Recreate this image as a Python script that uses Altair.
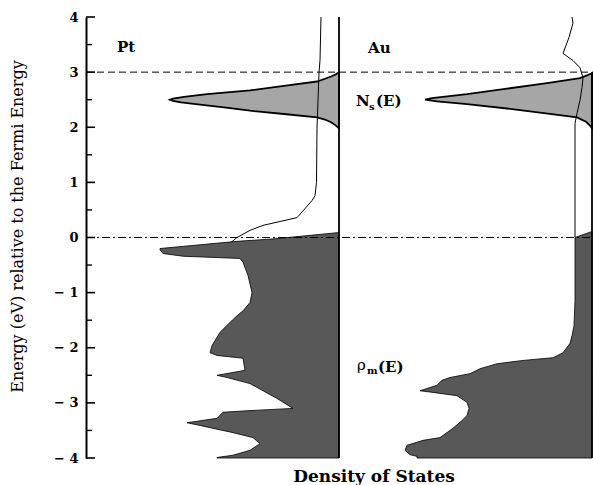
import altair as alt
import pandas as pd

# ---------------- data ----------------
# Panel span on the DOS axis (arbitrary units); DOS grows to the left of each baseline
PANEL = 253
panels = ["Pt", "Au"]
baselines = {"Pt": PANEL, "Au": 2 * PANEL}

# s-like resonance N_s(E)
pt_ns_E = [1.98, 2.03, 2.09, 2.14, 2.18, 2.24, 2.30, 2.36, 2.41, 2.45, 2.48, 2.50,
           2.52, 2.55, 2.60, 2.67, 2.75, 2.83, 2.88, 2.92, 2.96, 3.00]
pt_ns_dos = [0, 3, 8, 14, 22, 55, 89, 115, 139, 158, 166, 169,
             166, 155, 132, 89, 55, 22, 14, 8, 3, 0]
au_ns_E = [1.98, 2.03, 2.10, 2.18, 2.26, 2.34, 2.42, 2.47, 2.50,
           2.53, 2.60, 2.70, 2.80, 2.89, 2.94, 2.98]
au_ns_dos = [0, 2, 6, 15, 50, 85, 125, 155, 167,
             160, 125, 85, 45, 12, 5, 0]

# metal density of states rho_m(E)
pt_rho_E = [-4.00, -3.99, -3.95, -3.86, -3.74, -3.63, -3.54, -3.41, -3.36, -3.28, -3.17,
            -3.14, -3.10, -2.92, -2.65, -2.54, -2.50, -2.41, -2.19, -2.14, -2.09, -1.96,
            -1.87, -1.72, -1.54, -1.42, -1.33, -1.18, -1.00, -0.69, -0.45, -0.38, -0.34,
            -0.29, -0.22, -0.20, -0.07, -0.02, 0.09]
pt_rho_dos = [122, 122, 106, 89, 79, 86, 106, 139, 152, 122, 116,
              89, 46, 62, 89, 112, 122, 94, 96, 122, 129, 127,
              124, 119, 109, 102, 96, 89, 87, 91, 96, 99, 156,
              176, 179, 179, 102, 62, 0]
au_rho_E = [-4.00, -3.97, -3.94, -3.86, -3.77, -3.68, -3.63, -3.46, -3.32, -3.23, -3.10,
            -2.99, -2.87, -2.81, -2.78, -2.68, -2.59, -2.54, -2.47, -2.38, -2.29, -2.23,
            -2.18, -2.09, -1.92, -1.78, -1.60, -1.14, 0.00, 0.11]
au_rho_dos = [175, 175, 182, 187, 185, 169, 152, 139, 130, 125, 123,
              125, 135, 159, 172, 155, 150, 142, 122, 112, 95, 69,
              39, 29, 22, 20, 18, 17, 17, 0]

# thin curves
pt_line_E = [-0.15, 0.00, 0.13, 0.22, 0.36, 0.67, 0.76, 1.00, 1.98, 3.00, 3.21, 4.00]
pt_line_dos = [112, 102, 89, 76, 42, 27, 24, 22.5, 22, 20, 19, 18]
au_line_E = [0.00, 2.07, 2.25, 2.49, 2.72, 2.90, 3.08, 3.21, 3.34, 3.63, 3.89, 4.00]
au_line_dos = [17, 17, 15, 12, 10, 9, 12, 19, 29, 23, 19, 20]

major_ticks = [-4, -3, -2, -1, 0, 1, 2, 3, 4]
minor_ticks = [-3.5, -2.5, -1.5, -0.5, 0.5, 1.5, 2.5, 3.5]


def table(panel, E, dos):
    d = pd.DataFrame({"E": E, "dos": dos})
    d["panel"] = panel
    d["base"] = baselines[panel]
    d["x"] = d["base"] - d["dos"]
    return d


ns_df = pd.concat([table("Pt", pt_ns_E, pt_ns_dos), table("Au", au_ns_E, au_ns_dos)])
rho_df = pd.concat([table("Pt", pt_rho_E, pt_rho_dos), table("Au", au_rho_E, au_rho_dos)])
line_df = pd.concat([table("Pt", pt_line_E, pt_line_dos), table("Au", au_line_E, au_line_dos)])
base_df = pd.DataFrame({"panel": panels, "base": [baselines[p] for p in panels],
                        "top": [4, 3], "bottom": [-4, -4]})
major_df = pd.DataFrame({"E": major_ticks})
minor_df = pd.DataFrame({"E": minor_ticks})

W, H = 2 * PANEL, 441
xs = alt.Scale(domain=[0, 2 * PANEL], nice=False)
ys = alt.Scale(domain=[-4, 4], nice=False)
SERIF = "DejaVu Serif"

yaxis = alt.Axis(
    values=major_ticks, grid=False, ticks=False, tickSize=0,
    domainColor="black", domainWidth=2,
    labelFont=SERIF, labelFontWeight="bold", labelFontSize=13, labelColor="black",
    labelPadding=8,
    labelExpr="datum.value < 0 ? '\u2212 ' + (-datum.value) : '' + datum.value",
    title="Energy (eV) relative to the Fermi Energy",
    titleFont=SERIF, titleFontWeight="normal", titleFontSize=16, titleColor="black",
    titleAngle=270, titleAlign="center", titleBaseline="middle",
    titleX=-69, titleY=209,
)

ns = alt.Chart(ns_df).mark_area(
    orient="horizontal", color="#a6a6a6", stroke="black", strokeWidth=1.8
).encode(
    y=alt.Y("E:Q", scale=ys, axis=yaxis),
    x=alt.X("x:Q", scale=xs, axis=None, stack=None),
    x2="base:Q",
    detail="panel:N",
)

lines = alt.Chart(line_df).mark_line(color="black", strokeWidth=1).encode(
    y=alt.Y("E:Q", scale=ys),
    x=alt.X("x:Q", scale=xs),
    order="E:Q",
    detail="panel:N",
)

rho = alt.Chart(rho_df).mark_area(
    orient="horizontal", color="#585858", stroke="black", strokeWidth=0.8
).encode(
    y=alt.Y("E:Q", scale=ys),
    x=alt.X("x:Q", scale=xs, stack=None),
    x2="base:Q",
    detail="panel:N",
)

bases = alt.Chart(base_df).mark_rule(color="black", strokeWidth=1.8).encode(
    x=alt.X("base:Q", scale=xs),
    y=alt.Y("bottom:Q", scale=ys),
    y2="top:Q",
)

fermi3 = alt.Chart(pd.DataFrame({"E": [3]})).mark_rule(
    color="black", strokeWidth=1, strokeDash=[7, 4]
).encode(y=alt.Y("E:Q", scale=ys), x=alt.value(0), x2=alt.value(W + 1))

fermi0 = alt.Chart(pd.DataFrame({"E": [0]})).mark_rule(
    color="black", strokeWidth=1, strokeDash=[8, 3, 2, 3]
).encode(y=alt.Y("E:Q", scale=ys), x=alt.value(0), x2=alt.value(W + 1))

major = alt.Chart(major_df).mark_rule(color="black", strokeWidth=1.6).encode(
    y=alt.Y("E:Q", scale=ys), x=alt.value(0), x2=alt.value(9))
minor = alt.Chart(minor_df).mark_rule(color="black", strokeWidth=1.4).encode(
    y=alt.Y("E:Q", scale=ys), x=alt.value(0), x2=alt.value(6))


def label(text, x, y, size=15, weight="bold", align="left"):
    return alt.Chart(pd.DataFrame({"t": [text]})).mark_text(
        font=SERIF, fontSize=size, fontWeight=weight, color="black",
        align=align, baseline="alphabetic"
    ).encode(text="t:N", x=alt.value(x), y=alt.value(y))


texts = [
    label("Pt", 31, 35),
    label("Au", 282, 36),
    label("N", 270, 89),
    label("s", 283, 93, size=10),
    label("(E)", 290, 89),
    label("\u03c1", 271, 353, weight="normal"),
    label("m", 281, 357, size=10),
    label("(E)", 292, 355),
    label("Density of States", 288, 465, size=17, align="center"),
]

chart = alt.layer(ns, lines, rho, bases, fermi3, fermi0, major, minor, *texts).properties(
    width=W, height=H,
    autosize=alt.AutoSizeParams(type="none"),
    padding={"left": 86, "top": 17, "right": 1, "bottom": 27},
    background="white",
).configure_view(stroke=None)

chart.save("out.html", embed_options={"renderer": "svg", "actions": False})
